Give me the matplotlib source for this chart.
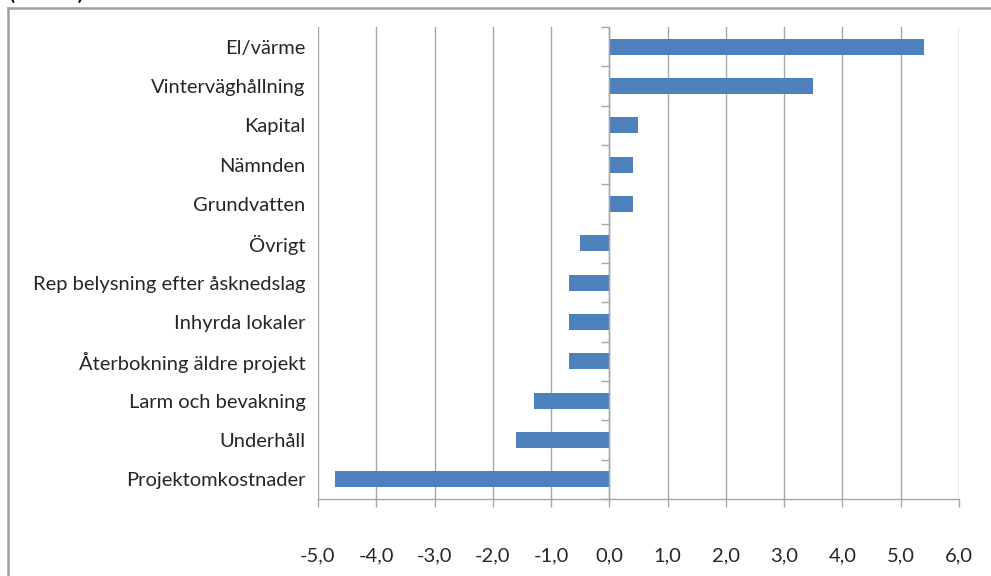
import matplotlib
matplotlib.use("Agg")
import matplotlib.pyplot as plt
from matplotlib.lines import Line2D

plt.rcParams['font.family'] = ['Lato', 'DejaVu Sans']

categories = [
    "El/värme",
    "Vinterväghållning",
    "Kapital",
    "Nämnden",
    "Grundvatten",
    "Övrigt",
    "Rep belysning efter åsknedslag",
    "Inhyrda lokaler",
    "Återbokning äldre projekt",
    "Larm och bevakning",
    "Underhåll",
    "Projektomkostnader",
]
values = [5.4, 3.5, 0.5, 0.4, 0.4, -0.5, -0.7, -0.7, -0.7, -1.3, -1.6, -4.7]
x_ticks = [-5, -4, -3, -2, -1, 0, 1, 2, 3, 4, 5, 6]
x_tick_labels = ["-5,0", "-4,0", "-3,0", "-2,0", "-1,0", "0,0",
                 "1,0", "2,0", "3,0", "4,0", "5,0", "6,0"]
unit_label = "(mnkr)"

BAR = "#4F81BD"
GRID = "#A6A6A6"
TEXT = "#262626"

fig = plt.figure(figsize=(9.91, 5.76), dpi=100)
ax = fig.add_axes([318 / 991, 1 - 499 / 576, (959 - 318) / 991, (499 - 27) / 576])

n = len(categories)
ypos = list(range(n))[::-1]
ax.barh(ypos, values, height=0.4, color=BAR, zorder=3)

ax.set_xlim(-5, 6)
ax.set_ylim(-0.5, n - 0.5)

# vertical gridlines at every unit
ax.set_xticks(x_ticks)
ax.set_xticklabels(x_tick_labels, fontsize=14.5, color=TEXT)
ax.grid(axis="x", color=GRID, linewidth=1.0, zorder=0)
ax.tick_params(axis="x", length=6, width=1.0, color=GRID, pad=29)

# category labels along the left edge
ax.set_yticks(ypos)
ax.set_yticklabels(categories, fontsize=14.5, color=TEXT)
ax.tick_params(axis="y", length=0, pad=9)

for side in ("top", "right", "left"):
    ax.spines[side].set_visible(False)
ax.spines["bottom"].set_color(GRID)
ax.spines["bottom"].set_linewidth(1.0)

# category axis at zero with tick marks between categories
ax.axvline(0, color=GRID, linewidth=1.0, zorder=4)
bounds = [i + 0.5 for i in range(-1, n)]
ax.hlines(bounds, -0.14, 0, color=GRID, linewidth=1.0, zorder=4, clip_on=False)

# outer frame (top and left edges)
fig.add_artist(Line2D([8 / 991, 1.0], [1 - 8 / 576, 1 - 8 / 576],
                      transform=fig.transFigure, color="#A0A0A0", linewidth=1.8))
fig.add_artist(Line2D([8 / 991, 8 / 991], [0.0, 1 - 8 / 576],
                      transform=fig.transFigure, color="#A0A0A0", linewidth=1.8))

fig.text(8 / 991, 1 + 1 / 576, unit_label, fontsize=20, color="#111111",
         ha="left", va="baseline")

fig.savefig("out.png", dpi=100)
